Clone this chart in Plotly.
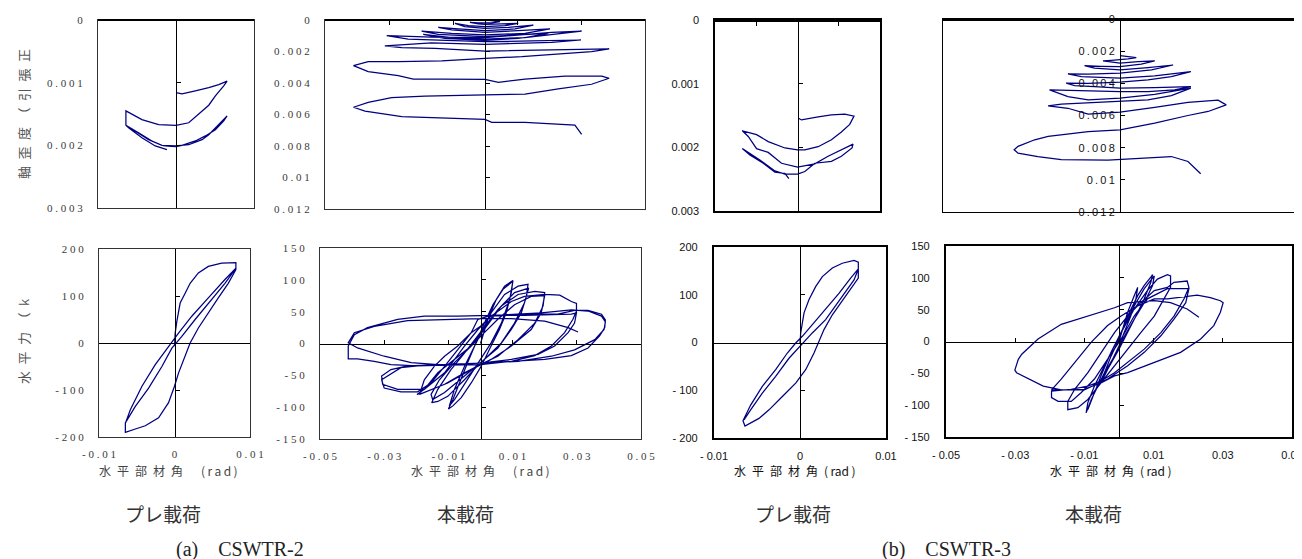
import plotly.graph_objects as go

W, H = 1302, 559

# ---------------- data (x: rad, y: axial strain or kN) ----------------
a_pre_strain = [
    (0, 0.00116), (0.00077, 0.00118), (0.00248, 0.00113), (0.0042, 0.00108), (0.00548, 0.00103),
    (0.00655, 0.000975), (0.00612, 0.00105), (0.00505, 0.00121), (0.0042, 0.00136), (0.00291, 0.0015),
    (0.00163, 0.00164), (0, 0.00168), (-0.00223, 0.00167), (-0.00437, 0.00159), (-0.00642, 0.00145),
    (-0.00642, 0.00168), (-0.00522, 0.00177), (-0.00351, 0.00191), (-0.0018, 0.002), (0, 0.00201),
    (0.00163, 0.00199), (0.00334, 0.00191), (0.0042, 0.00183), (0.00548, 0.00167), (0.00655, 0.00153),
    (0.00612, 0.00161), (0.00505, 0.00175), (0.00377, 0.00185), (0.00248, 0.00193), (0.00077, 0.002),
    (0, 0.00202), (-0.00158, 0.00201), (-0.00308, 0.00193), (-0.0048, 0.0018), (-0.00642, 0.00168),
    (-0.00608, 0.00172), (-0.00437, 0.00188), (-0.00266, 0.00201), (-0.00116, 0.00207),
]

a_main_strain = [
    (0, 0), (0.0021, 0.00004), (0.0047, 0.00011), (0.0021, 0.00019), (0, 0.00021), (-0.0021, 0.00019),
    (-0.0047, 0.00015), (-0.0021, 0.00025), (0, 0.00028), (0.0052, 0.00023), (0.0104, 0.00021),
    (0.0063, 0.00036), (0, 0.00042), (-0.0052, 0.00036), (-0.0094, 0.00021), (-0.0063, 0.00042),
    (0, 0.00053), (0.0073, 0.00047), (0.0151, 0.00032), (0.0094, 0.00057), (0, 0.00068),
    (-0.0083, 0.00057), (-0.0146, 0.00047), (-0.0104, 0.00063), (0, 0.00078), (0.0104, 0.00068),
    (0.0203, 0.00057), (0.0125, 0.00085), (0, 0.00095), (-0.0104, 0.00085), (-0.0198, 0.0007),
    (-0.0146, 0.00091), (0, 0.00106), (0.0104, 0.00095), (0.0198, 0.00085), (0.0125, 0.00112),
    (0, 0.00121), (-0.0104, 0.00112), (-0.0193, 0.00091), (-0.0125, 0.00116), (0, 0.00129),
    (0.0104, 0.00116), (0.0208, 0.00091), (0.0302, 0.0007), (0.0208, 0.00078), (0.0083, 0.00099),
    (0, 0.00112), (-0.0167, 0.00108), (-0.0307, 0.00099), (-0.024, 0.00121), (-0.0125, 0.00129),
    (0, 0.00138), (0.0146, 0.00133), (0.03, 0.00127), (0.0208, 0.00142), (0.0083, 0.0015),
    (0, 0.00154), (-0.0167, 0.00146), (-0.0313, 0.00165), (-0.026, 0.00176), (-0.0156, 0.0018),
    (0, 0.00197), (0.0146, 0.00192), (0.0281, 0.00188), (0.0388, 0.00184), (0.0333, 0.00201),
    (0.0229, 0.00218), (0.0115, 0.00233), (0, 0.00243), (-0.0135, 0.0026), (-0.0271, 0.00265),
    (-0.0365, 0.00265), (-0.0411, 0.0029), (-0.0365, 0.00328), (-0.0271, 0.00353), (-0.0224, 0.00375),
    (-0.0135, 0.00375), (0, 0.00377), (0.0042, 0.00396), (0.0125, 0.00375), (0.025, 0.00356),
    (0.0365, 0.00356), (0.0388, 0.0037), (0.0333, 0.00408), (0.0229, 0.00438), (0.0125, 0.0047),
    (0, 0.00476), (-0.0188, 0.00483), (-0.0292, 0.00493), (-0.0365, 0.00523), (-0.0411, 0.00554),
    (-0.0375, 0.00578), (-0.026, 0.00614), (-0.0135, 0.0062), (0, 0.00631), (0.0021, 0.0065),
    (0.0125, 0.0065), (0.0281, 0.00667), (0.0302, 0.00726),
]

a_pre_force = [
    (0, -7), (0.00009, 21), (0.00031, 46), (0.00075, 85), (0.00141, 106), (0.00207, 127), (0.00316, 149),
    (0.00448, 163), (0.00624, 170), (0.00813, 171), (0.00813, 156), (0.00712, 127), (0.0058, 96),
    (0.00448, 64), (0.00316, 32), (0.00207, 0), (0.00141, -28), (0.00053, -64), (0, -92),
    (-0.00079, -127), (-0.00211, -159), (-0.00387, -176), (-0.00519, -183), (-0.00651, -190),
    (-0.00651, -170), (-0.00519, -135), (-0.00343, -96), (-0.00167, -50), (-0.00035, -11),
    (0.00097, 14), (0.00273, 50), (0.00492, 92), (0.00668, 127), (0.00813, 159), (0.00668, 135),
    (0.00448, 96), (0.00229, 57), (0.00053, 21), (-0.00079, -7), (-0.00255, -46), (-0.00431, -92),
    (-0.00585, -142), (-0.00651, -171),
]

a_main_force = [
    (0, 0), (0.0023, 38), (0.0049, 69), (0.0075, 90), (0.0101, 99), (0.0096, 80), (0.008, 48),
    (0.0059, 22), (0.0033, -4), (0.0002, -36), (-0.0029, -62), (-0.006, -85), (-0.0086, -98),
    (-0.01, -103), (-0.0086, -88), (-0.0066, -62), (-0.004, -30), (-0.0014, 1), (0.0012, 32),
    (0.0039, 61), (0.007, 85), (0.0094, 95), (0.0101, 98), (0.0091, 69), (0.0065, 32), (0.0033, 1),
    (0, -25), (-0.004, -57), (-0.0081, -88), (-0.0097, -98), (-0.0081, -72), (-0.005, -36),
    (-0.0008, 6), (0.0033, 48), (0.0075, 77), (0.0117, 90), (0.0148, 93), (0.0143, 74), (0.0127, 48),
    (0.0096, 22), (0.0054, -7), (0, -30), (-0.005, -57), (-0.0102, -83), (-0.0133, -91), (-0.0152, -93),
    (-0.0133, -72), (-0.0092, -41), (-0.005, -15), (0, 17), (0.0054, 53), (0.0106, 80), (0.015, 87),
    (0.0137, 64), (0.0106, 32), (0.0065, 1), (0.0012, -25), (-0.005, -51), (-0.0112, -77),
    (-0.0149, -88), (-0.0154, -80), (-0.0128, -57), (-0.0081, -30), (-0.0029, -4), (0.0012, 22),
    (0.0065, 59), (0.0117, 77), (0.0169, 82), (0.02, 80), (0.0195, 59), (0.0169, 32), (0.0117, 6),
    (0.0054, -20), (0, -33), (-0.005, -46), (-0.0112, -64), (-0.0175, -77), (-0.0198, -80),
    (-0.0175, -72), (-0.0133, -46), (-0.0081, -25), (-0.0029, -4), (0.0012, 17), (0.0054, 38),
    (0.0106, 61), (0.0158, 74), (0.02, 75), (0.0189, 48), (0.0158, 22), (0.0096, -4), (0.0033, -25),
    (-0.0029, -41), (-0.0102, -62), (-0.0164, -75), (-0.019, -80), (-0.0175, -57), (-0.0144, -36),
    (-0.0112, -20), (-0.0071, -4), (-0.0029, 17), (0, 27), (0.0033, 43), (0.0096, 66), (0.0137, 74),
    (0.02, 77), (0.0247, 76), (0.0283, 66), (0.0299, 63), (0.0299, 51), (0.0288, 38), (0.0262, 17),
    (0.0221, -4), (0.0169, -19), (0.0096, -28), (0, -33), (-0.0112, -34), (-0.0196, -35),
    (-0.0248, -38), (-0.0284, -49), (-0.0308, -57), (-0.03, -70), (-0.0248, -76), (-0.0196, -76),
    (-0.0154, -62), (-0.0112, -36), (-0.0071, -9), (-0.0029, 17), (-0.0008, 38), (0.0033, 44),
    (0.0137, 44), (0.0247, 45), (0.0283, 46), (0.0299, 48), (0.0293, 32), (0.0273, 17), (0.0231, -4),
    (0.0179, -17), (0.0096, -25), (0, -31), (-0.0112, -33), (-0.0227, -35), (-0.0279, -41),
    (-0.0308, -51), (-0.0305, -64), (-0.0258, -72), (-0.0175, -72), (-0.0112, -46), (-0.005, -4),
    (-0.0008, 22), (0.0033, 43), (0.0137, 46), (0.0241, 46), (0.0293, 52), (0.0335, 52), (0.0377, 46),
    (0.0389, 37), (0.0387, 25), (0.0371, 12), (0.0335, -7), (0.0283, -19), (0.02, -25), (0.0096, -28),
    (0, -31), (-0.0112, -34), (-0.0196, -35), (-0.0279, -33), (-0.0331, -28), (-0.0383, -24),
    (-0.0412, -24), (-0.0412, -4), (-0.0393, 14), (-0.0352, 25), (-0.0258, 38), (-0.0175, 43),
    (-0.0071, 43), (0.0033, 44), (0.0189, 48), (0.0283, 53), (0.0335, 51), (0.0377, 43), (0.0389, 34),
    (0.0385, 22), (0.0356, 6), (0.0293, -10), (0.0221, -20), (0.0117, -28), (0, -31), (-0.0112, -34),
    (-0.0216, -30), (-0.03, -20), (-0.0383, -7), (-0.0412, 1), (-0.0393, 17), (-0.0331, 27),
    (-0.0227, 36), (-0.0112, 38), (0, 39), (0.0096, 39), (0.02, 35), (0.0273, 25), (0.0304, 18),
]

b_pre_strain = [
    (0.00008, 0.00154), (0.00048, 0.00157), (0.0025, 0.00152), (0.00411, 0.00149), (0.00573, 0.00148),
    (0.00685, 0.00151), (0.00633, 0.00164), (0.00532, 0.00176), (0.00411, 0.00188), (0.0025, 0.00199),
    (0.00089, 0.00204), (0, 0.00204), (-0.00153, 0.00201), (-0.00355, 0.00191), (-0.00496, 0.0018),
    (-0.00669, 0.00174), (-0.00597, 0.00183), (-0.00496, 0.00202), (-0.00355, 0.00208),
    (-0.00194, 0.00225), (0, 0.00231), (0.0021, 0.00226), (0.00371, 0.00214), (0.00532, 0.00204),
    (0.00673, 0.00195), (0.00661, 0.00201), (0.00532, 0.00214), (0.00411, 0.00222), (0.0021, 0.00225),
    (0.00089, 0.00238), (0, 0.00242), (-0.00153, 0.00242), (-0.00274, 0.00237), (-0.00456, 0.0022),
    (-0.00597, 0.00208), (-0.00669, 0.00202), (-0.00577, 0.00212), (-0.00415, 0.00225),
    (-0.00274, 0.00239), (-0.00153, 0.00241), (-0.00105, 0.00249),
]

b_main_strain = [
    (0, 0.00228), (0.0023, 0.00234), (0.0046, 0.0024), (0.0023, 0.00248), (0, 0.00254),
    (-0.0024, 0.00257), (-0.0048, 0.00261), (-0.0024, 0.00269), (0, 0.00275), (0.0051, 0.00265),
    (0.0098, 0.00261), (0.006, 0.00281), (0, 0.00296), (-0.0053, 0.00294), (-0.01, 0.0029),
    (-0.0072, 0.00306), (0, 0.00317), (0.0079, 0.00302), (0.015, 0.00286), (0.0089, 0.00317),
    (0, 0.00337), (-0.009, 0.00343), (-0.0147, 0.00341), (-0.0109, 0.00358), (0, 0.00368),
    (0.0098, 0.00354), (0.02, 0.00327), (0.0145, 0.00358), (0.0079, 0.00379), (0, 0.00393),
    (-0.009, 0.00401), (-0.0152, 0.00399), (-0.0128, 0.00414), (-0.0072, 0.0042), (0, 0.0043),
    (0.0098, 0.00426), (0.02, 0.0042), (0.0154, 0.00441), (0.0079, 0.00451), (0, 0.00451),
    (-0.0128, 0.00447), (-0.0199, 0.00441), (-0.0147, 0.00482), (-0.009, 0.00503), (0, 0.00492),
    (0.0098, 0.00468), (0.02, 0.0043), (0.0145, 0.00476), (0.0079, 0.00503), (0, 0.00513),
    (-0.009, 0.00523), (-0.0166, 0.0053), (-0.0203, 0.0054), (-0.0147, 0.00555), (-0.009, 0.00592),
    (0, 0.00579), (0.0098, 0.0055), (0.0192, 0.00519), (0.0277, 0.00505), (0.03, 0.00534),
    (0.0249, 0.00575), (0.0192, 0.006), (0.0098, 0.00648), (0, 0.00689), (-0.009, 0.007),
    (-0.0203, 0.0073), (-0.0241, 0.00751), (-0.0288, 0.00792), (-0.0299, 0.00813), (-0.0288, 0.00834),
    (-0.0232, 0.00855), (-0.0166, 0.00875), (-0.0034, 0.00877), (0.007, 0.00865), (0.0145, 0.00855),
    (0.0192, 0.00886), (0.0228, 0.00962),
]

b_pre_force = [
    (0, -1), (0.00008, 20), (0.00047, 62), (0.00105, 90), (0.00182, 117), (0.0026, 138), (0.00376, 156),
    (0.00492, 166), (0.00628, 172), (0.00678, 168), (0.00678, 135), (0.00609, 117), (0.00492, 86),
    (0.00376, 58), (0.00279, 27), (0.00221, 2), (0.00163, -22), (0.00066, -57), (-0.0005, -85),
    (-0.00205, -113), (-0.0036, -141), (-0.00477, -159), (-0.00574, -169), (-0.0064, -175),
    (-0.00663, -164), (-0.00574, -131), (-0.00438, -92), (-0.00283, -57), (-0.00147, -22),
    (-0.0005, -1), (0.00027, 13), (0.00143, 37), (0.00298, 69), (0.00453, 103), (0.00589, 135),
    (0.00678, 154), (0.00628, 131), (0.00531, 107), (0.00415, 76), (0.00298, 48), (0.00143, 20),
    (0, -8), (-0.00128, -33), (-0.00283, -71), (-0.00438, -106), (-0.00574, -141), (-0.00651, -162),
]

b_main_force = [
    (0, 0), (0.0011, 19), (0.0025, 46), (0.0044, 72), (0.0054, 85), (0.0049, 67), (0.0034, 40),
    (0.0015, 14), (0, -7), (-0.0023, -33), (-0.0042, -54), (-0.0052, -65), (-0.0042, -49),
    (-0.0023, -23), (0, 4), (0.0025, 40), (0.0054, 72), (0.0073, 88), (0.0092, 101), (0.0097, 105),
    (0.0092, 93), (0.0073, 67), (0.0049, 40), (0.0025, 14), (0, -12), (-0.0033, -44), (-0.0061, -70),
    (-0.008, -91), (-0.0095, -112), (-0.009, -96), (-0.0071, -70), (-0.0042, -38), (-0.0013, -7),
    (0.0015, 25), (0.0044, 56), (0.0073, 83), (0.0102, 103), (0.0097, 88), (0.0073, 61), (0.0044, 35),
    (0.0011, 4), (-0.0013, -23), (-0.0042, -49), (-0.0071, -80), (-0.009, -107), (-0.008, -91),
    (-0.0052, -54), (-0.0023, -17), (0.0006, 14), (0.0044, 51), (0.0082, 80), (0.0111, 98),
    (0.014, 105), (0.0149, 103), (0.0149, 85), (0.013, 67), (0.0102, 40), (0.0063, 14), (0.0025, -12),
    (-0.0013, -38), (-0.0052, -65), (-0.009, -91), (-0.0119, -104), (-0.0148, -107), (-0.0148, -94),
    (-0.0128, -75), (-0.009, -49), (-0.0052, -17), (-0.0013, 14), (0.0025, 40), (0.0063, 61),
    (0.0102, 80), (0.014, 85), (0.0159, 93), (0.0197, 95), (0.0202, 85), (0.0188, 67), (0.0159, 40),
    (0.0121, 14), (0.0073, -12), (0.0025, -33), (-0.0013, -49), (-0.0052, -62), (-0.009, -70),
    (-0.0138, -75), (-0.0195, -78), (-0.0195, -88), (-0.0176, -94), (-0.0138, -94), (-0.0109, -80),
    (-0.0071, -59), (-0.0033, -28), (0.0006, 4), (0.0044, 40), (0.0082, 67), (0.014, 83), (0.0202, 83),
    (0.0193, 61), (0.0159, 35), (0.0121, 9), (0.0073, -17), (0.0025, -38), (-0.0033, -59),
    (-0.01, -76), (-0.0195, -76), (-0.0167, -59), (-0.0128, -33), (-0.008, -1), (-0.0033, 25),
    (0.0006, 40), (0.0054, 56), (0.0102, 67), (0.014, 67), (0.0169, 69), (0.0226, 73), (0.0264, 69),
    (0.0293, 64), (0.0301, 61), (0.0293, 46), (0.0274, 25), (0.0236, 4), (0.0178, -17), (0.0102, -33),
    (0.0025, -49), (-0.0013, -54), (-0.0052, -65), (-0.01, -75), (-0.0167, -76), (-0.0219, -70),
    (-0.0262, -59), (-0.0296, -49), (-0.0301, -45), (-0.0291, -28), (-0.0281, -20), (-0.0234, 4),
    (-0.0167, 27), (-0.009, 40), (-0.0013, 53), (0.0025, 61), (0.0102, 64), (0.0149, 61),
    (0.0197, 51), (0.0231, 38),
]

# ---------------- axis ticks ----------------
rot_pre_ticks = [-0.01, 0, 0.01]
rot_main_ticks = [-0.05, -0.03, -0.01, 0.01, 0.03, 0.05]
rot_main_cross = [-0.03, -0.01, 0.01, 0.03]
rot_pre_cross_b = [-0.005, 0.005]
strain_pre_ticks = [0, 0.001, 0.002, 0.003]
strain_pre_cross = [0.001, 0.002]
strain_main_ticks = [0, 0.002, 0.004, 0.006, 0.008, 0.01, 0.012]
strain_main_cross = [0.002, 0.004, 0.006, 0.008, 0.01]
force_pre_ticks = [-200, -100, 0, 100, 200]
force_pre_cross = [-100, 100]
force_main_ticks = [-150, -100, -50, 0, 50, 100, 150]
force_main_cross = [-100, -50, 50, 100]

# ---------------- texts ----------------
EN = "\u2002"
title_strain = EN.join("軸歪度（引張正")
title_force = EN.join("水平力") + "\u3000" + EN.join("（k")
title_rot_a = EN.join("水平部材角") + "\u3000\u2002" + "\u2009".join("(rad)")
title_rot_b = EN.join("水平部材角") + EN + "(\u2009rad\u2009)"
label_pre = "プレ載荷"
label_main = "本載荷"
label_a = "(a)　CSWTR-2"
label_b = "(b)　CSWTR-3"


def fmt(v):
    return "%g" % v


def spaced_a(v):
    return " ".join(fmt(v))


def spaced_b(v):
    return fmt(v).replace("-", "- ")


FONT_A = dict(family="Liberation Serif", size=11, color="#3a3a3a")
FONT_B = dict(family="Liberation Sans", size=11, color="#111111")
CURVE = dict(color="#000080", width=1.25)

# panel layout: box in pixels (left, top, right, bottom)
panels = [
    dict(data=a_pre_strain, box=(90, 12, 246, 200), xr=(-0.01, 0.01), yr=(0.003, 0),
         xt=None, yt=strain_pre_ticks, xc=[], yc=strain_pre_cross, style="a", lw=1.3, topw=2.2,
         xside="top"),
    dict(data=a_main_strain, box=(317, 12, 637, 201), xr=(-0.05, 0.05), yr=(0.012, 0),
         xt=None, yt=strain_main_ticks, xc=rot_main_cross, yc=strain_main_cross, style="a", lw=1.3,
         topw=2.2, xside="top"),
    dict(data=a_pre_force, box=(91, 241, 242, 429), xr=(-0.01, 0.01), yr=(-200, 200),
         xt=rot_pre_ticks, yt=force_pre_ticks, xc=[], yc=force_pre_cross, style="a", lw=1.3,
         topw=None, xside="bottom"),
    dict(data=a_main_force, box=(312, 240, 633, 431), xr=(-0.05, 0.05), yr=(-150, 150),
         xt=rot_main_ticks, yt=force_main_ticks, xc=rot_main_cross, yc=force_main_cross, style="a",
         lw=1.3, topw=None, xside="bottom"),
    dict(data=b_pre_strain, box=(707, 12, 872, 203), xr=(-0.01, 0.01), yr=(0.003, 0),
         xt=None, yt=strain_pre_ticks, xc=rot_pre_cross_b, yc=strain_pre_cross, style="b", lw=1.6,
         topw=2.6, xside="top"),
    dict(data=b_main_strain, box=(935, 11, 1289, 204), xr=(-0.05, 0.05), yr=(0.012, 0),
         xt=None, yt=None, xc=[], yc=strain_main_ticks, style="b", lw=1.3, topw=2.6, xside="top",
         inner_labels=strain_main_ticks),
    dict(data=b_pre_force, box=(706, 239, 878, 430), xr=(-0.01, 0.01), yr=(-200, 200),
         xt=rot_pre_ticks, yt=force_pre_ticks, xc=[], yc=force_pre_cross, style="b", lw=2.3,
         topw=None, xside="bottom"),
    dict(data=b_main_force, box=(938, 238, 1284, 429), xr=(-0.05, 0.05), yr=(-150, 150),
         xt=rot_main_ticks, yt=force_main_ticks, xc=rot_main_cross, yc=force_main_cross, style="b",
         lw=2.3, topw=None, xside="bottom"),
]


def aid(n):
    return "" if n == 1 else str(n)


fig = go.Figure()
layout = {}
N = len(panels)
for i, p in enumerate(panels, start=1):
    j = i + N
    l, t, r, b = p["box"]
    xd = [l / W, r / W]
    yd = [1 - b / H, 1 - t / H]
    font = FONT_A if p["style"] == "a" else FONT_B
    sp = spaced_a if p["style"] == "a" else spaced_b
    boxcol = "#333333" if p["style"] == "a" else "#000000"

    xs = [q[0] for q in p["data"]]
    ys = [q[1] for q in p["data"]]
    fig.add_trace(go.Scatter(x=xs, y=ys, mode="lines", line=CURVE, hoverinfo="skip",
                             showlegend=False, xaxis="x" + aid(i), yaxis="y" + aid(i)))
    # helper traces so the crossing axes are registered
    fig.add_trace(go.Scatter(x=[None], y=[None], mode="lines", hoverinfo="skip", showlegend=False,
                             xaxis="x" + aid(j), yaxis="y" + aid(i)))
    fig.add_trace(go.Scatter(x=[None], y=[None], mode="lines", hoverinfo="skip", showlegend=False,
                             xaxis="x" + aid(i), yaxis="y" + aid(j)))

    x0, x1 = p["xr"]
    y0, y1 = p["yr"]
    # paper positions of the x=0 and y=0 crossings
    pos_x0 = xd[0] + (0 - x0) / (x1 - x0) * (xd[1] - xd[0])
    pos_y0 = yd[0] + (0 - y0) / (y1 - y0) * (yd[1] - yd[0])

    common = dict(showgrid=False, zeroline=False, fixedrange=True, automargin=False)
    xa = dict(domain=xd, range=[x0, x1], anchor="y" + aid(i), showline=True, mirror=True,
              linecolor=boxcol, linewidth=p["lw"], ticks="", **common)
    if p["xt"]:
        xa.update(showticklabels=True, tickmode="array", tickvals=p["xt"],
                  ticktext=[sp(v) for v in p["xt"]], tickfont=font, ticklabelstandoff=7)
    else:
        xa.update(showticklabels=False)
    ya = dict(domain=yd, range=[y0, y1], anchor="x" + aid(i), showline=True, mirror=True,
              linecolor=boxcol, linewidth=p["lw"], ticks="", **common)
    if p["yt"]:
        ya.update(showticklabels=True, tickmode="array", tickvals=p["yt"],
                  ticktext=[sp(v) for v in p["yt"]], tickfont=font, ticklabelstandoff=12)
    else:
        ya.update(showticklabels=False)

    cx = dict(overlaying="x" + aid(i), anchor="free", position=pos_y0, range=[x0, x1],
              side=p["xside"], showline=True, linecolor="#000000",
              linewidth=p["topw"] if p["topw"] else 1, showticklabels=False, **common)
    if p["xc"]:
        cx.update(ticks="inside", ticklen=4, tickwidth=1, tickcolor="#000000", tickmode="array",
                  tickvals=p["xc"])
    else:
        cx.update(ticks="")
    cy = dict(overlaying="y" + aid(i), anchor="free", position=pos_x0, range=[y0, y1],
              side="left", showline=True, linecolor="#000000", linewidth=1,
              ticks="inside", ticklen=4, tickwidth=1, tickcolor="#000000", tickmode="array",
              tickvals=p["yc"], showticklabels=False, **common)
    if p.get("inner_labels"):
        cy.update(showticklabels=True, ticktext=[spaced_a(v).replace(" ", "\u2009") for v in p["yc"]],
                  tickfont=font, ticklabelstandoff=3)

    layout["xaxis" + aid(i)] = xa
    layout["yaxis" + aid(i)] = ya
    layout["xaxis" + aid(j)] = cx
    layout["yaxis" + aid(j)] = cy


def ann(text, xp, yp, size, family, color, angle=0, xanchor="center"):
    return dict(text=text, x=xp / W, y=1 - yp / H, xref="paper", yref="paper", showarrow=False,
                xanchor=xanchor, yanchor="middle", textangle=angle, borderpad=0,
                font=dict(size=size, family=family, color=color))


JP = "Noto Sans CJK JP"
annotations = [
    ann(title_strain, 15, 106, 13, JP, "#555555", angle=-90),
    ann(title_force, 15, 333, 13, JP, "#555555", angle=-90),
    ann(title_rot_a, 160, 462, 12, JP, "#444444"),
    ann(title_rot_a, 472, 462, 12, JP, "#444444"),
    ann(title_rot_b, 786, 462, 12, JP, "#111111"),
    ann(title_rot_b, 1102, 462, 12, JP, "#111111"),
    ann(label_pre, 155, 505, 19, JP, "#333333"),
    ann(label_main, 457, 505, 19, JP, "#333333"),
    ann(label_pre, 785, 505, 19, JP, "#333333"),
    ann(label_main, 1085, 505, 19, JP, "#333333"),
    ann(label_a, 167, 541, 20, "Liberation Serif", "#222222", xanchor="left"),
    ann(label_b, 873, 541, 20, "Liberation Serif", "#222222", xanchor="left"),
]

fig.update_layout(
    template="none",
    width=W, height=H, margin=dict(l=0, r=0, t=0, b=0, pad=0),
    paper_bgcolor="white", plot_bgcolor="white", showlegend=False,
    annotations=annotations, **layout,
)

fig.write_html("out.html", config=dict(displayModeBar=False))
